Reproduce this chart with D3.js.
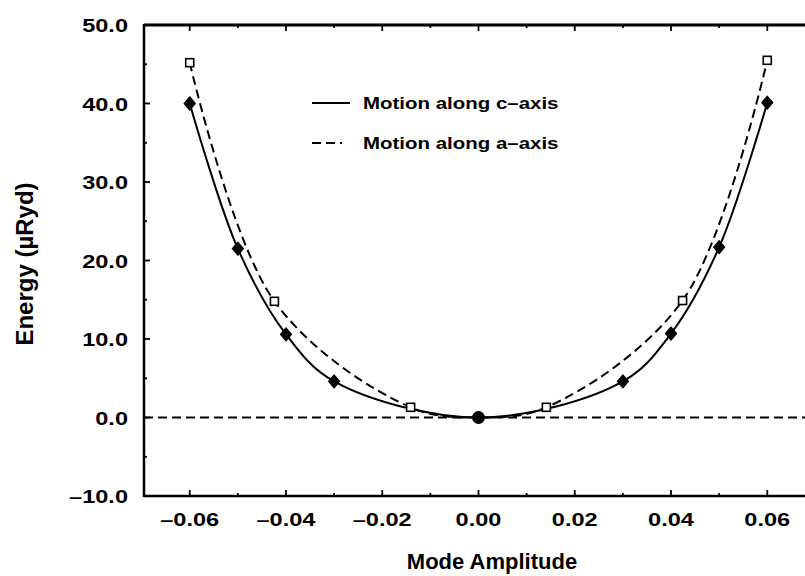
<!DOCTYPE html>
<html>
<head>
<meta charset="utf-8">
<script src="https://cdn.jsdelivr.net/npm/d3@7"></script>
<style>
  html, body { margin: 0; padding: 0; background: #fff; }
  svg { display: block; }
  text { font-family: "Liberation Sans", Arial, Helvetica, sans-serif; font-weight: bold; fill: #000; }
</style>
</head>
<body>
<svg id="chart" width="805" height="576"></svg>
<script>
// Motion along c-axis (filled markers, solid curve)
const ampC = [-0.06, -0.05, -0.04, -0.03, 0.0, 0.03, 0.04, 0.05, 0.06];
const energyC = [40.0, 21.5, 10.6, 4.6, 0.0, 4.6, 10.7, 21.7, 40.1];

// Motion along a-axis (open squares, dashed curve)
const ampA = [-0.06, -0.0424, -0.0141, 0.0, 0.0141, 0.0424, 0.06];
const energyA = [45.2, 14.8, 1.3, 0.0, 1.3, 14.9, 45.5];

// Axis ticks
const xMajorTicks = [-0.06, -0.04, -0.02, 0.00, 0.02, 0.04, 0.06];
const xMinorTicks = [-0.05, -0.03, -0.01, 0.01, 0.03, 0.05, 0.07];
const yMajorTicks = [-10, 0, 10, 20, 30, 40, 50];
const yMinorTicks = [-5, 5, 15, 25, 35, 45];

const legendLabels = ["Motion along c\u2013axis", "Motion along a\u2013axis"];
const xTitle = "Mode Amplitude";
const yTitle = "Energy (\u00b5Ryd)";

const svg = d3.select("#chart");
const W = 805, H = 576;
const plotLeft = 144, plotTop = 25, plotBottom = 496;

const x = d3.scaleLinear().domain([-0.0695, 0.0695]).range([plotLeft, 813]);
const y = d3.scaleLinear().domain([-10, 50]).range([plotBottom, plotTop]);

const stretch = 1.24;
const fmtX = v => (v < 0 ? "\u2013" : "") + d3.format(".2f")(Math.abs(v));
const fmtY = v => (v < 0 ? "\u2013" : "") + d3.format(".1f")(Math.abs(v));

// zero reference line
svg.append("line")
  .attr("x1", plotLeft).attr("x2", W)
  .attr("y1", y(0)).attr("y2", y(0))
  .attr("stroke", "#000").attr("stroke-width", 2)
  .attr("stroke-dasharray", "9,5");

// frame: left, top, bottom (right side runs past the edge)
const frame = svg.append("g").attr("stroke", "#000").attr("fill", "none");
frame.append("line").attr("x1", plotLeft).attr("x2", plotLeft).attr("y1", plotTop - 1).attr("y2", plotBottom + 1).attr("stroke-width", 2.5);
frame.append("line").attr("x1", plotLeft).attr("x2", W + 10).attr("y1", plotTop).attr("y2", plotTop).attr("stroke-width", 3);
frame.append("line").attr("x1", plotLeft).attr("x2", W + 10).attr("y1", plotBottom).attr("y2", plotBottom).attr("stroke-width", 2.5);

// ticks (inward)
const ticks = svg.append("g").attr("stroke", "#000").attr("stroke-width", 1.8);
xMajorTicks.forEach(v => {
  ticks.append("line").attr("x1", x(v)).attr("x2", x(v)).attr("y1", plotBottom).attr("y2", plotBottom - 6);
  ticks.append("line").attr("x1", x(v)).attr("x2", x(v)).attr("y1", plotTop).attr("y2", plotTop + 6);
});
xMinorTicks.filter(v => x(v) > plotLeft && x(v) < W).forEach(v => {
  ticks.append("line").attr("x1", x(v)).attr("x2", x(v)).attr("y1", plotBottom).attr("y2", plotBottom - 3);
  ticks.append("line").attr("x1", x(v)).attr("x2", x(v)).attr("y1", plotTop).attr("y2", plotTop + 3);
});
yMajorTicks.forEach(v => {
  ticks.append("line").attr("x1", plotLeft).attr("x2", plotLeft + 6).attr("y1", y(v)).attr("y2", y(v));
});
yMinorTicks.forEach(v => {
  ticks.append("line").attr("x1", plotLeft).attr("x2", plotLeft + 3).attr("y1", y(v)).attr("y2", y(v));
});

// tick labels
svg.append("g").selectAll("text").data(xMajorTicks).join("text")
  .attr("transform", d => `translate(${x(d)},526) scale(${stretch},1)`)
  .attr("text-anchor", "middle")
  .attr("font-size", 19)
  .text(fmtX);

svg.append("g").selectAll("text").data(yMajorTicks).join("text")
  .attr("transform", d => `translate(128,${y(d) + 7}) scale(${stretch},1)`)
  .attr("text-anchor", "end")
  .attr("font-size", 19)
  .text(fmtY);

// axis titles
svg.append("text")
  .attr("x", 492).attr("y", 569)
  .attr("text-anchor", "middle")
  .attr("font-size", 22)
  .text(xTitle);

svg.append("text")
  .attr("transform", `translate(33,264) rotate(-90)`)
  .attr("text-anchor", "middle")
  .attr("font-size", 24)
  .text(yTitle);

// curves
const seriesC = ampC.map((a, i) => ({ x: a, y: energyC[i] }));
const seriesA = ampA.map((a, i) => ({ x: a, y: energyA[i] }));

const line = d3.line().x(d => x(d.x)).y(d => y(d.y)).curve(d3.curveCatmullRom.alpha(0.5));

svg.append("path").datum(seriesA)
  .attr("d", line).attr("fill", "none")
  .attr("stroke", "#000").attr("stroke-width", 2)
  .attr("stroke-dasharray", "9,5");

svg.append("path").datum(seriesC)
  .attr("d", line).attr("fill", "none")
  .attr("stroke", "#000").attr("stroke-width", 2);

// markers: open squares for a-axis
svg.append("g").selectAll("rect").data(seriesA.filter(d => d.x !== 0)).join("rect")
  .attr("x", d => x(d.x) - 4).attr("y", d => y(d.y) - 4)
  .attr("width", 8).attr("height", 8)
  .attr("fill", "#fff").attr("stroke", "#000").attr("stroke-width", 1.6);

// filled diamonds for c-axis, the shared minimum drawn as a dot
const diamond = (cx, cy) => `M${cx},${cy - 6.5}L${cx + 5.5},${cy}L${cx},${cy + 6.5}L${cx - 5.5},${cy}Z`;
svg.append("g").selectAll("path").data(seriesC.filter(d => d.x !== 0)).join("path")
  .attr("d", d => diamond(x(d.x), y(d.y)))
  .attr("fill", "#000").attr("stroke", "#000").attr("stroke-width", 1.2)
  .attr("stroke-linejoin", "round");
svg.append("g").selectAll("circle").data(seriesC.filter(d => d.x === 0)).join("circle")
  .attr("cx", d => x(d.x)).attr("cy", d => y(d.y)).attr("r", 6.5)
  .attr("fill", "#000");

// legend
const legend = svg.append("g");
const legendRows = [103, 143];
legendLabels.forEach((lab, i) => {
  legend.append("line")
    .attr("x1", 312).attr("x2", 350)
    .attr("y1", legendRows[i]).attr("y2", legendRows[i])
    .attr("stroke", "#000").attr("stroke-width", 1.8)
    .attr("stroke-dasharray", i === 0 ? null : "9,5,9,5,2,10");
  legend.append("text")
    .attr("transform", `translate(363,${legendRows[i] + 6}) scale(${stretch},1)`)
    .attr("font-size", 16.5)
    .text(lab);
});
</script>
</body>
</html>
